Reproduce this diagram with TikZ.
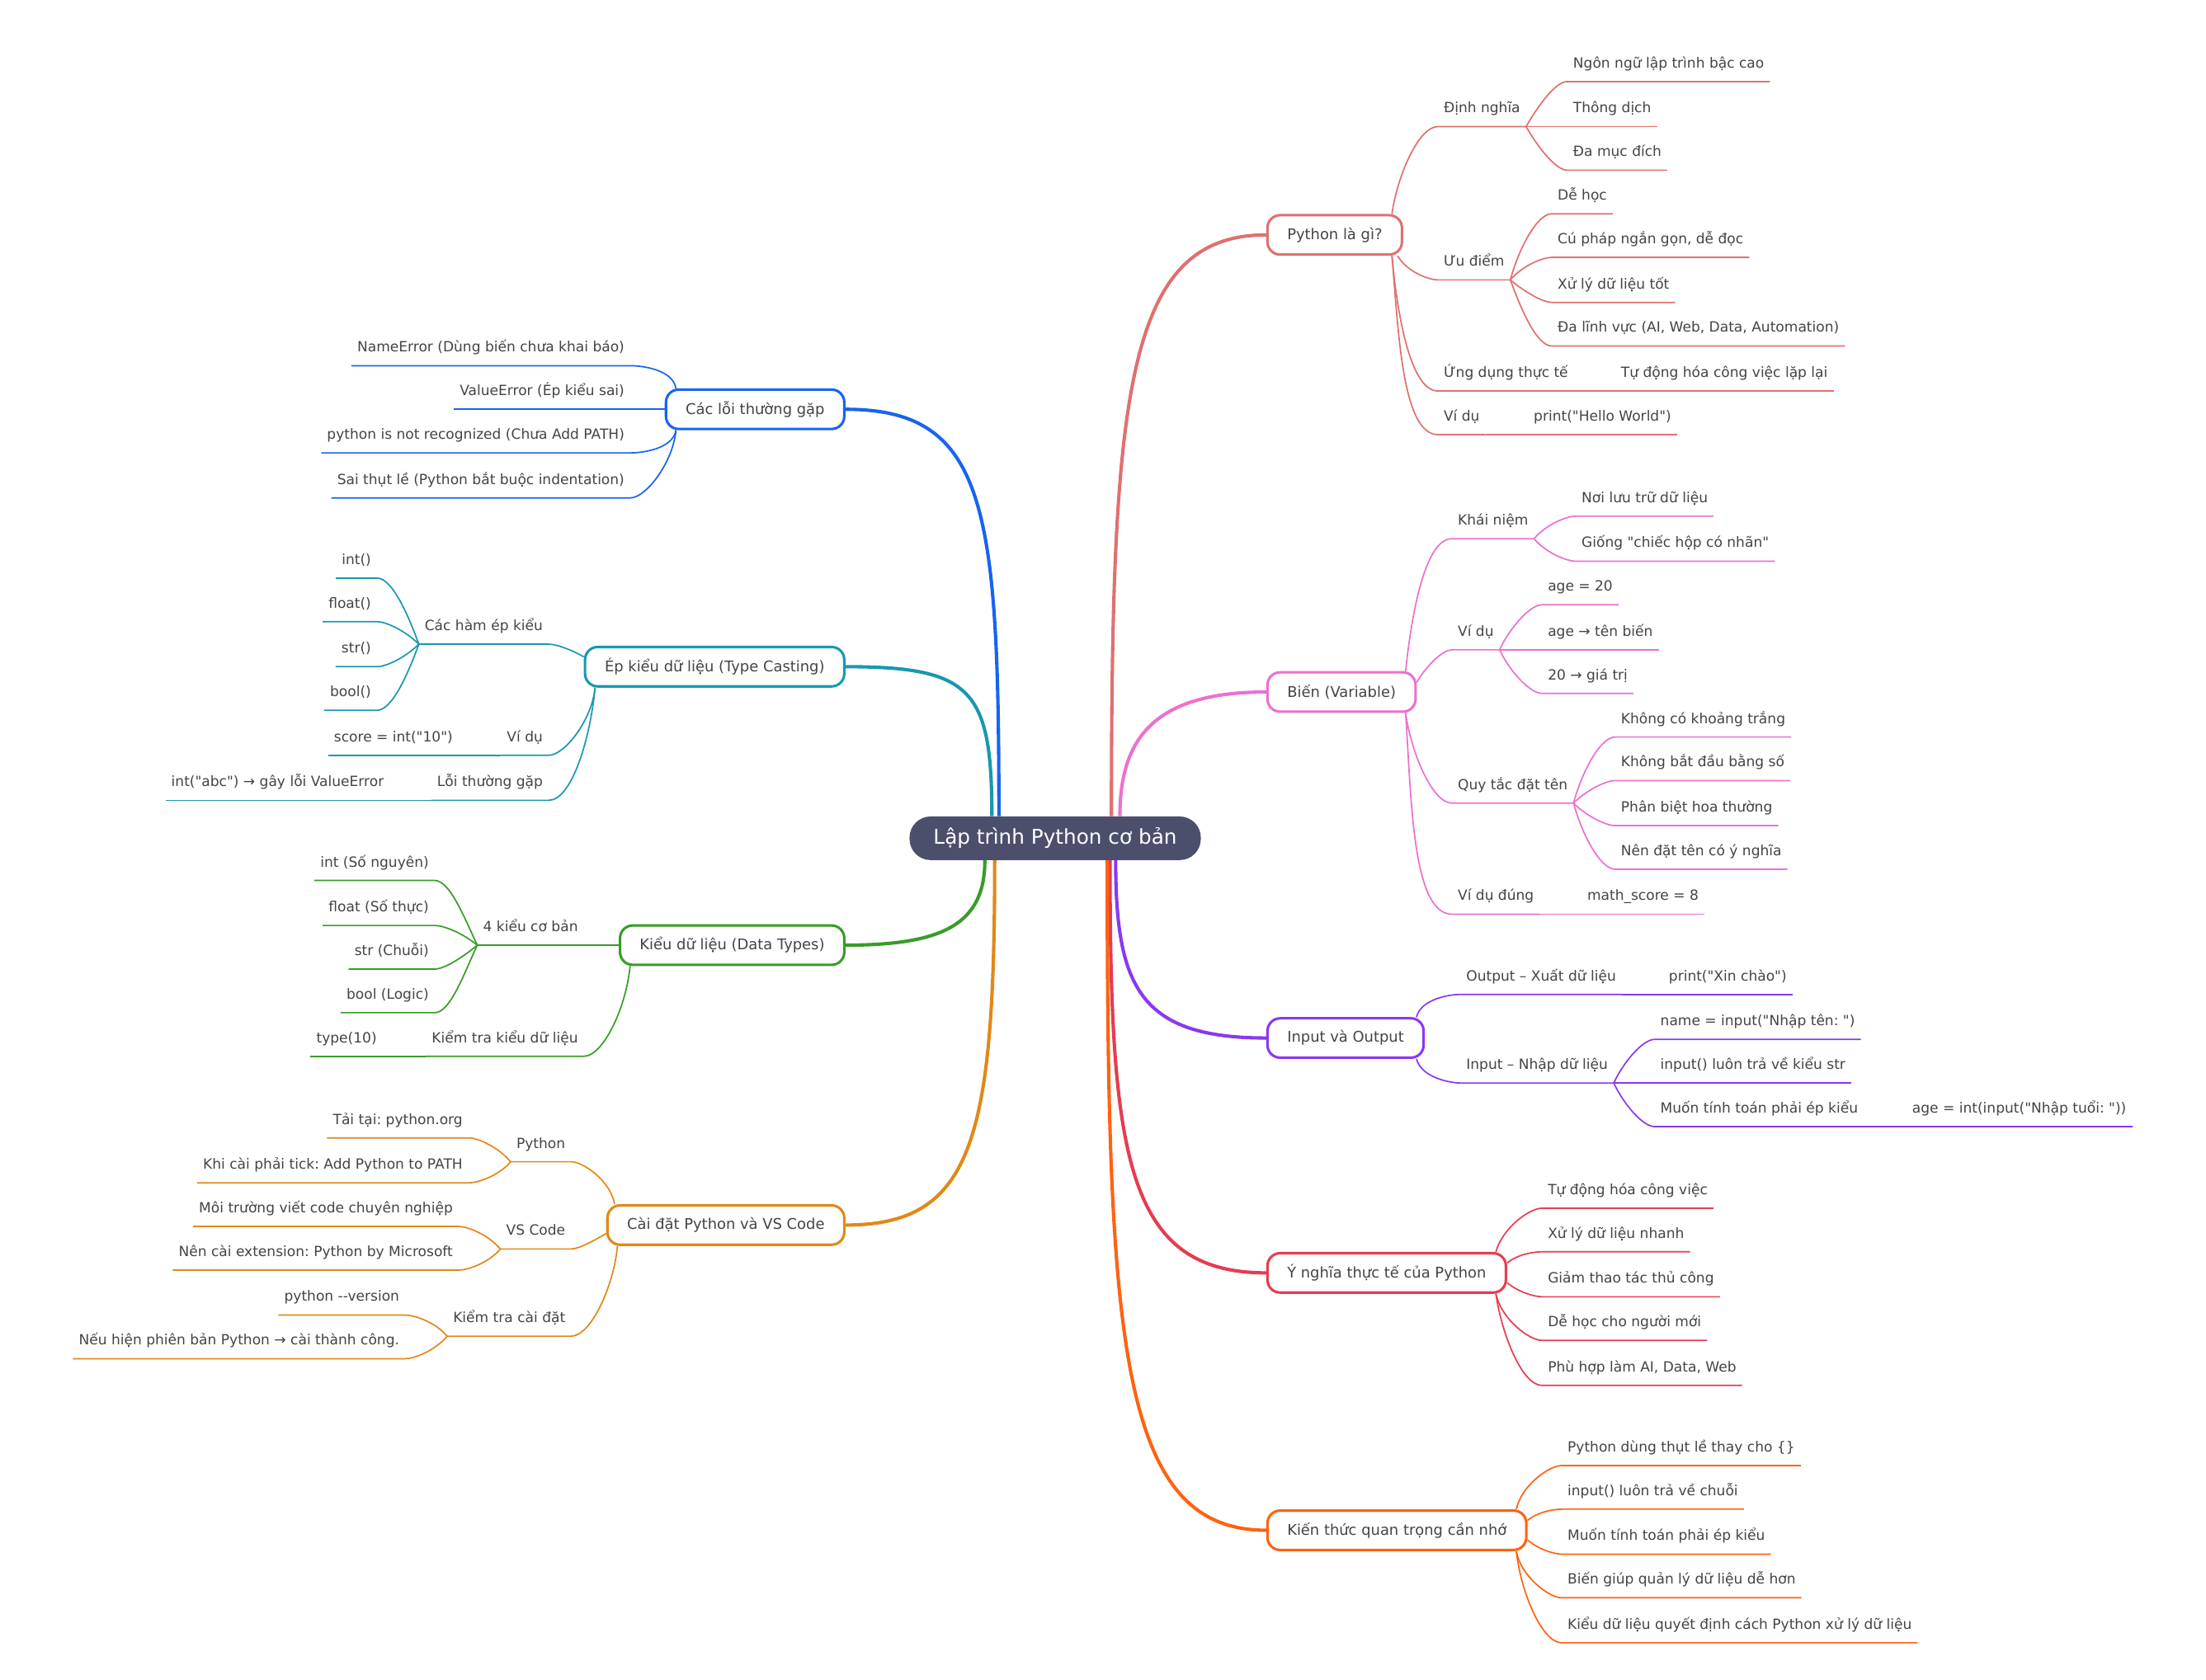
\documentclass[tikz,border=0pt]{standalone}
\usepackage{fontspec}
\setmainfont{DejaVu Sans}[Ligatures=TeXOff]
\frenchspacing
\usetikzlibrary{positioning}
\definecolor{mmroot}{RGB}{76,79,108}
\definecolor{mmtext}{RGB}{68,68,68}
\definecolor{mmpy}{RGB}{224,112,112}
\definecolor{mmbien}{RGB}{236,112,208}
\definecolor{mmio}{RGB}{138,56,240}
\definecolor{mmyn}{RGB}{230,60,80}
\definecolor{mmkt}{RGB}{255,98,16}
\definecolor{mmloi}{RGB}{24,100,240}
\definecolor{mmep}{RGB}{24,152,176}
\definecolor{mmkieu}{RGB}{56,156,40}
\definecolor{mmcd}{RGB}{226,136,24}

\begin{document}
\begin{tikzpicture}[x=1pt,y=1pt,
    root/.style={fill=mmroot,text=white,rounded corners=15pt,minimum height=31pt,inner xsep=17pt,font=\fontsize{14.5}{17}\selectfont},
    topic/.style={draw=#1,line width=1.8pt,fill=white,text=mmtext,rounded corners=9pt,minimum height=28pt,inner xsep=14pt,font=\fontsize{10.5}{12}\selectfont},
    lf/.style={text=mmtext,inner xsep=4pt,inner ysep=7pt,text height=7.5pt,text depth=2.5pt,font=\fontsize{10}{12}\selectfont},
    rl/.style={lf,anchor=south west},
    ll/.style={lf,anchor=south east},
    main/.style={draw=#1,line width=2.4pt},
    br/.style={draw=#1,line width=1pt},
    ru/.style={out=#1,in=180,in looseness=.5},
    lu/.style={out=#1,in=0,in looseness=.5}]
  \useasboundingbox (0,0) rectangle (1568,-1194);
  \node[root] (root) at (750,-596) {Lập trình Python cơ bản};

  % Python là gì?
  \node[topic=mmpy,anchor=west] (py) at (900,-167) {Python là gì?};
  \draw[main=mmpy] ([xshift=40]root.north) .. controls +(0,300) and +(-100,0) .. (py.west);
  \node[rl] (py-dn) at (1022,-90) {Định nghĩa};
  \node[rl] (py-ud) at (1022,-199) {Ưu điểm};
  \node[rl] (py-ung) at (1022,-278) {Ứng dụng thực tế};
  \node[rl] (py-vd) at (1022,-309) {Ví dụ};
  \node[rl] (py-dn1) at (1114,-58) {Ngôn ngữ lập trình bậc cao};
  \node[rl] (py-dn2) at (1114,-90) {Thông dịch};
  \node[rl] (py-dn3) at (1114,-121) {Đa mục đích};
  \node[rl] (py-ud1) at (1103,-152) {Dễ học};
  \node[rl] (py-ud2) at (1103,-183) {Cú pháp ngắn gọn, dễ đọc};
  \node[rl] (py-ud3) at (1103,-215) {Xử lý dữ liệu tốt};
  \node[rl] (py-ud4) at (1103,-246) {Đa lĩnh vực (AI, Web, Data, Automation)};
  \node[rl] (py-ung1) at (1148,-278) {Tự động hóa công việc lặp lại};
  \node[rl] (py-vd1) at (1086,-309) {print("Hello World")};
  \draw[br=mmpy] ([xshift=-8]py.north east) to[ru=82] (py-dn.south west) -- (py-dn.south east);
  \draw[br=mmpy] ([xshift=-4]py.south east) to[ru=-60] (py-ud.south west) -- (py-ud.south east);
  \draw[br=mmpy] ([xshift=-8]py.south east) to[ru=-85] (py-ung.south west) -- (py-ung.south east);
  \draw[br=mmpy] ([xshift=-8]py.south east) to[ru=-85] (py-vd.south west) -- (py-vd.south east);
  \draw[br=mmpy] (py-dn.south east) to[ru=60] (py-dn1.south west) -- (py-dn1.south east);
  \draw[br=mmpy] (py-dn.south east) -- (py-dn2.south west) -- (py-dn2.south east);
  \draw[br=mmpy] (py-dn.south east) to[ru=-60] (py-dn3.south west) -- (py-dn3.south east);
  \draw[br=mmpy] (py-ud.south east) to[ru=75] (py-ud1.south west) -- (py-ud1.south east);
  \draw[br=mmpy] (py-ud.south east) to[ru=50] (py-ud2.south west) -- (py-ud2.south east);
  \draw[br=mmpy] (py-ud.south east) to[ru=-40] (py-ud3.south west) -- (py-ud3.south east);
  \draw[br=mmpy] (py-ud.south east) to[ru=-70] (py-ud4.south west) -- (py-ud4.south east);
  \draw[br=mmpy] (py-ung.south east) -- (py-ung1.south west) -- (py-ung1.south east);
  \draw[br=mmpy] (py-vd.south east) -- (py-vd1.south west) -- (py-vd1.south east);

  % Biến (Variable)
  \node[topic=mmbien,anchor=west] (bien) at (900,-492) {Biến (Variable)};
  \draw[main=mmbien] ([xshift=46]root.north) .. controls +(0,55) and +(-80,0) .. (bien.west);
  \node[rl] (bien-kn) at (1032,-383) {Khái niệm};
  \node[rl] (bien-vd) at (1032,-462) {Ví dụ};
  \node[rl] (bien-qt) at (1032,-571) {Quy tắc đặt tên};
  \node[rl] (bien-vdd) at (1032,-650) {Ví dụ đúng};
  \node[rl] (bien-kn1) at (1120,-367) {Nơi lưu trữ dữ liệu};
  \node[rl] (bien-kn2) at (1120,-399) {Giống "chiếc hộp có nhãn"};
  \node[rl] (bien-vd1) at (1096,-430) {age = 20};
  \node[rl] (bien-vd2) at (1096,-462) {age → tên biến};
  \node[rl] (bien-vd3) at (1096,-493) {20 → giá trị};
  \node[rl] (bien-qt1) at (1148,-524) {Không có khoảng trắng};
  \node[rl] (bien-qt2) at (1148,-555) {Không bắt đầu bằng số};
  \node[rl] (bien-qt3) at (1148,-587) {Phân biệt hoa thường};
  \node[rl] (bien-qt4) at (1148,-618) {Nên đặt tên có ý nghĩa};
  \node[rl] (bien-vdd1) at (1124,-650) {math\_score = 8};
  \draw[br=mmbien] ([xshift=-8]bien.north east) to[ru=84] (bien-kn.south west) -- (bien-kn.south east);
  \draw[br=mmbien] ([yshift=7]bien.east) to[ru=60] (bien-vd.south west) -- (bien-vd.south east);
  \draw[br=mmbien] ([xshift=-8]bien.south east) to[ru=-82] (bien-qt.south west) -- (bien-qt.south east);
  \draw[br=mmbien] ([xshift=-8]bien.south east) to[ru=-86] (bien-vdd.south west) -- (bien-vdd.south east);
  \draw[br=mmbien] (bien-kn.south east) to[ru=50] (bien-kn1.south west) -- (bien-kn1.south east);
  \draw[br=mmbien] (bien-kn.south east) to[ru=-50] (bien-kn2.south west) -- (bien-kn2.south east);
  \draw[br=mmbien] (bien-vd.south east) to[ru=65] (bien-vd1.south west) -- (bien-vd1.south east);
  \draw[br=mmbien] (bien-vd.south east) -- (bien-vd2.south west) -- (bien-vd2.south east);
  \draw[br=mmbien] (bien-vd.south east) to[ru=-65] (bien-vd3.south west) -- (bien-vd3.south east);
  \draw[br=mmbien] (bien-qt.south east) to[ru=75] (bien-qt1.south west) -- (bien-qt1.south east);
  \draw[br=mmbien] (bien-qt.south east) to[ru=45] (bien-qt2.south west) -- (bien-qt2.south east);
  \draw[br=mmbien] (bien-qt.south east) to[ru=-45] (bien-qt3.south west) -- (bien-qt3.south east);
  \draw[br=mmbien] (bien-qt.south east) to[ru=-75] (bien-qt4.south west) -- (bien-qt4.south east);
  \draw[br=mmbien] (bien-vdd.south east) -- (bien-vdd1.south west) -- (bien-vdd1.south east);

  % Input và Output
  \node[topic=mmio,anchor=west] (io) at (900,-738) {Input và Output};
  \draw[main=mmio] ([xshift=43]root.south) .. controls +(0,-90) and +(-90,0) .. (io.west);
  \node[rl] (io-out) at (1038,-707) {Output – Xuất dữ liệu};
  \node[rl] (io-in) at (1038,-770) {Input – Nhập dữ liệu};
  \node[rl] (io-out1) at (1182,-707) {print("Xin chào")};
  \node[rl] (io-in1) at (1176,-739) {name = input("Nhập tên: ")};
  \node[rl] (io-in2) at (1176,-770) {input() luôn trả về kiểu str};
  \node[rl] (io-in3) at (1176,-801) {Muốn tính toán phải ép kiểu};
  \node[rl] (io-in31) at (1355,-801) {age = int(input("Nhập tuổi: "))};
  \draw[br=mmio] ([xshift=-6]io.north east) to[ru=75] (io-out.south west) -- (io-out.south east);
  \draw[br=mmio] ([xshift=-6]io.south east) to[ru=-75] (io-in.south west) -- (io-in.south east);
  \draw[br=mmio] (io-out.south east) -- (io-out1.south west) -- (io-out1.south east);
  \draw[br=mmio] (io-in.south east) to[ru=65] (io-in1.south west) -- (io-in1.south east);
  \draw[br=mmio] (io-in.south east) -- (io-in2.south west) -- (io-in2.south east);
  \draw[br=mmio] (io-in.south east) to[ru=-65] (io-in3.south west) -- (io-in3.south east);
  \draw[br=mmio] (io-in3.south east) -- (io-in31.south west) -- (io-in31.south east);

  % Ý nghĩa thực tế của Python
  \node[topic=mmyn,anchor=west] (yn) at (900,-905) {Ý nghĩa thực tế của Python};
  \draw[main=mmyn] ([xshift=39]root.south) .. controls +(0,-210) and +(-100,0) .. (yn.west);
  \node[rl] (yn-1) at (1096,-859) {Tự động hóa công việc};
  \node[rl] (yn-2) at (1096,-890) {Xử lý dữ liệu nhanh};
  \node[rl] (yn-3) at (1096,-922) {Giảm thao tác thủ công};
  \node[rl] (yn-4) at (1096,-953) {Dễ học cho người mới};
  \node[rl] (yn-5) at (1096,-985) {Phù hợp làm AI, Data, Web};
  \draw[br=mmyn] ([xshift=-8]yn.north east) to[ru=75] (yn-1.south west) -- (yn-1.south east);
  \draw[br=mmyn] ([yshift=7]yn.east) to[ru=40] (yn-2.south west) -- (yn-2.south east);
  \draw[br=mmyn] ([yshift=-7]yn.east) to[ru=-40] (yn-3.south west) -- (yn-3.south east);
  \draw[br=mmyn] ([xshift=-8]yn.south east) to[ru=-78] (yn-4.south west) -- (yn-4.south east);
  \draw[br=mmyn] ([xshift=-8]yn.south east) to[ru=-82] (yn-5.south west) -- (yn-5.south east);

  % Kiến thức quan trọng cần nhớ
  \node[topic=mmkt,anchor=west] (kt) at (900,-1088) {Kiến thức quan trọng cần nhớ};
  \draw[main=mmkt] ([xshift=37]root.south) .. controls +(0,-340) and +(-105,0) .. (kt.west);
  \node[rl] (kt-1) at (1110,-1042) {Python dùng thụt lề thay cho \{\}};
  \node[rl] (kt-2) at (1110,-1073) {input() luôn trả về chuỗi};
  \node[rl] (kt-3) at (1110,-1105) {Muốn tính toán phải ép kiểu};
  \node[rl] (kt-4) at (1110,-1136) {Biến giúp quản lý dữ liệu dễ hơn};
  \node[rl] (kt-5) at (1110,-1168) {Kiểu dữ liệu quyết định cách Python xử lý dữ liệu};
  \draw[br=mmkt] ([xshift=-8]kt.north east) to[ru=78] (kt-1.south west) -- (kt-1.south east);
  \draw[br=mmkt] ([yshift=7]kt.east) to[ru=40] (kt-2.south west) -- (kt-2.south east);
  \draw[br=mmkt] ([yshift=-7]kt.east) to[ru=-40] (kt-3.south west) -- (kt-3.south east);
  \draw[br=mmkt] ([xshift=-8]kt.south east) to[ru=-80] (kt-4.south west) -- (kt-4.south east);
  \draw[br=mmkt] ([xshift=-8]kt.south east) to[ru=-84] (kt-5.south west) -- (kt-5.south east);

  % Các lỗi thường gặp
  \node[topic=mmloi,anchor=east] (loi) at (601,-291) {Các lỗi thường gặp};
  \draw[main=mmloi] ([xshift=-40]root.north) .. controls +(0,220) and +(100,0) .. (loi.east);
  \node[ll] (loi-1) at (448,-260) {NameError (Dùng biến chưa khai báo)};
  \node[ll] (loi-2) at (448,-291) {ValueError (Ép kiểu sai)};
  \node[ll] (loi-3) at (448,-322) {python is not recognized (Chưa Add PATH)};
  \node[ll] (loi-4) at (448,-354) {Sai thụt lề (Python bắt buộc indentation)};
  \draw[br=mmloi] ([xshift=8]loi.north west) to[lu=100] (loi-1.south east) -- (loi-1.south west);
  \draw[br=mmloi] (loi.west) -- (loi-2.south east) -- (loi-2.south west);
  \draw[br=mmloi] ([xshift=8]loi.south west) to[lu=-100] (loi-3.south east) -- (loi-3.south west);
  \draw[br=mmloi] ([xshift=8]loi.south west) to[lu=-95] (loi-4.south east) -- (loi-4.south west);

  % Ép kiểu dữ liệu (Type Casting)
  \node[topic=mmep,anchor=east] (ep) at (601,-474) {Ép kiểu dữ liệu (Type Casting)};
  \draw[main=mmep] ([xshift=-45]root.north) .. controls +(0,90) and +(90,0) .. (ep.east);
  \node[ll] (ep-hk) at (390,-458) {Các hàm ép kiểu};
  \node[ll] (ep-vd) at (390,-537) {Ví dụ};
  \node[ll] (ep-ltg) at (390,-569) {Lỗi thường gặp};
  \node[ll] (ep-hk1) at (268,-411) {int()};
  \node[ll] (ep-hk2) at (268,-442) {float()};
  \node[ll] (ep-hk3) at (268,-474) {str()};
  \node[ll] (ep-hk4) at (268,-505) {bool()};
  \node[ll] (ep-vd1) at (326,-537) {score = int("10")};
  \node[ll] (ep-ltg1) at (277,-569) {int("abc") → gây lỗi ValueError};
  \draw[br=mmep] ([yshift=7]ep.west) to[lu=150] (ep-hk.south east) -- (ep-hk.south west);
  \draw[br=mmep] ([xshift=8]ep.south west) to[lu=-95] (ep-vd.south east) -- (ep-vd.south west);
  \draw[br=mmep] ([xshift=8]ep.south west) to[lu=-95] (ep-ltg.south east) -- (ep-ltg.south west);
  \draw[br=mmep] (ep-hk.south west) to[lu=110] (ep-hk1.south east) -- (ep-hk1.south west);
  \draw[br=mmep] (ep-hk.south west) to[lu=135] (ep-hk2.south east) -- (ep-hk2.south west);
  \draw[br=mmep] (ep-hk.south west) to[lu=-135] (ep-hk3.south east) -- (ep-hk3.south west);
  \draw[br=mmep] (ep-hk.south west) to[lu=-110] (ep-hk4.south east) -- (ep-hk4.south west);
  \draw[br=mmep] (ep-vd.south west) -- (ep-vd1.south east) -- (ep-vd1.south west);
  \draw[br=mmep] (ep-ltg.south west) -- (ep-ltg1.south east) -- (ep-ltg1.south west);

  % Kiểu dữ liệu (Data Types)
  \node[topic=mmkieu,anchor=east] (kieu) at (601,-672) {Kiểu dữ liệu (Data Types)};
  \draw[main=mmkieu] ([xshift=-50]root.south) .. controls +(0,-45) and +(70,0) .. (kieu.east);
  \node[ll] (kieu-cb) at (415,-672) {4 kiểu cơ bản};
  \node[ll] (kieu-kt) at (415,-751) {Kiểm tra kiểu dữ liệu};
  \node[ll] (kieu-cb1) at (309,-626) {int (Số nguyên)};
  \node[ll] (kieu-cb2) at (309,-658) {float (Số thực)};
  \node[ll] (kieu-cb3) at (309,-689) {str (Chuỗi)};
  \node[ll] (kieu-cb4) at (309,-720) {bool (Logic)};
  \node[ll] (kieu-kt1) at (272,-751) {type(10)};
  \draw[br=mmkieu] (kieu.west) -- (kieu-cb.south east) -- (kieu-cb.south west);
  \draw[br=mmkieu] ([xshift=8]kieu.south west) to[lu=-95] (kieu-kt.south east) -- (kieu-kt.south west);
  \draw[br=mmkieu] (kieu-cb.south west) to[lu=115] (kieu-cb1.south east) -- (kieu-cb1.south west);
  \draw[br=mmkieu] (kieu-cb.south west) to[lu=140] (kieu-cb2.south east) -- (kieu-cb2.south west);
  \draw[br=mmkieu] (kieu-cb.south west) to[lu=-140] (kieu-cb3.south east) -- (kieu-cb3.south west);
  \draw[br=mmkieu] (kieu-cb.south west) to[lu=-115] (kieu-cb4.south east) -- (kieu-cb4.south west);
  \draw[br=mmkieu] (kieu-kt.south west) -- (kieu-kt1.south east) -- (kieu-kt1.south west);

  % Cài đặt Python và VS Code
  \node[topic=mmcd,anchor=east] (cd) at (601,-871) {Cài đặt Python và VS Code};
  \draw[main=mmcd] ([xshift=-43]root.south) .. controls +(0,-200) and +(90,0) .. (cd.east);
  \node[ll] (cd-py) at (406,-826) {Python};
  \node[ll] (cd-vs) at (406,-888) {VS Code};
  \node[ll] (cd-kt) at (406,-950) {Kiểm tra cài đặt};
  \node[ll] (cd-py1) at (333,-809) {Tải tại: python.org};
  \node[ll] (cd-py2) at (333,-841) {Khi cài phải tick: Add Python to PATH};
  \node[ll] (cd-vs1) at (326,-872) {Môi trường viết code chuyên nghiệp};
  \node[ll] (cd-vs2) at (326,-903) {Nên cài extension: Python by Microsoft};
  \node[ll] (cd-kt1) at (288,-935) {python --version};
  \node[ll] (cd-kt2) at (288,-966) {Nếu hiện phiên bản Python → cài thành công.};
  \draw[br=mmcd] ([xshift=6]cd.north west) to[lu=100] (cd-py.south east) -- (cd-py.south west);
  \draw[br=mmcd] ([yshift=-6]cd.west) to[lu=-150] (cd-vs.south east) -- (cd-vs.south west);
  \draw[br=mmcd] ([xshift=8]cd.south west) to[lu=-95] (cd-kt.south east) -- (cd-kt.south west);
  \draw[br=mmcd] (cd-py.south west) to[lu=130] (cd-py1.south east) -- (cd-py1.south west);
  \draw[br=mmcd] (cd-py.south west) to[lu=-130] (cd-py2.south east) -- (cd-py2.south west);
  \draw[br=mmcd] (cd-vs.south west) to[lu=130] (cd-vs1.south east) -- (cd-vs1.south west);
  \draw[br=mmcd] (cd-vs.south west) to[lu=-130] (cd-vs2.south east) -- (cd-vs2.south west);
  \draw[br=mmcd] (cd-kt.south west) to[lu=130] (cd-kt1.south east) -- (cd-kt1.south west);
  \draw[br=mmcd] (cd-kt.south west) to[lu=-130] (cd-kt2.south east) -- (cd-kt2.south west);
\end{tikzpicture}
\end{document}
